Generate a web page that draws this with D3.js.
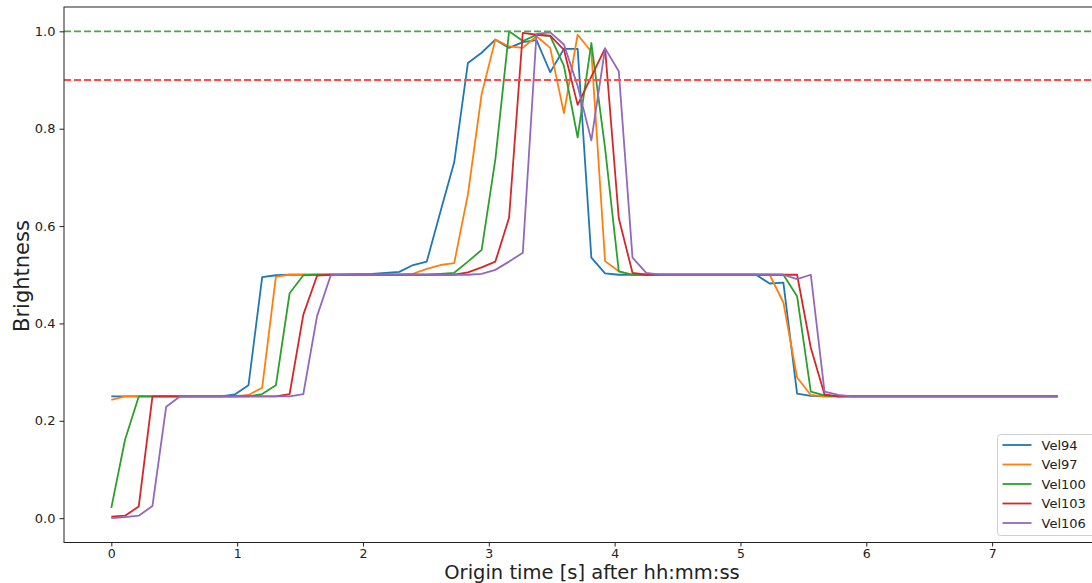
<!DOCTYPE html>
<html>
<head>
<meta charset="utf-8">
<script src="https://cdn.jsdelivr.net/npm/d3@7"></script>
<style>
  body { margin: 0; background: #fff; }
  svg { display: block; font-family: "DejaVu Sans", sans-serif; }
</style>
</head>
<body>
<div id="chart"></div>
<script>
// sample step in seconds (one frame)
var DT = 0.109;

var vel94 = [0.25, 0.25, 0.25, 0.25, 0.25, 0.25, 0.25, 0.25, 0.25, 0.254,
    0.273, 0.495, 0.499, 0.5, 0.5, 0.5, 0.5, 0.5, 0.501, 0.502,
    0.504, 0.506, 0.52, 0.527, 0.63, 0.731, 0.935, 0.956, 0.983, 0.966,
    0.978, 0.982, 0.916, 0.964, 0.964, 0.535, 0.503, 0.5, 0.5, 0.5,
    0.5, 0.5, 0.5, 0.5, 0.5, 0.5, 0.5, 0.5, 0.482, 0.484,
    0.256, 0.251, 0.25, 0.25, 0.25, 0.25, 0.25, 0.25, 0.25, 0.25,
    0.25, 0.25, 0.25, 0.25, 0.25, 0.25, 0.25, 0.25, 0.25, 0.25];

var vel97 = [0.243, 0.25, 0.25, 0.25, 0.25, 0.25, 0.25, 0.25, 0.25, 0.25,
    0.253, 0.268, 0.496, 0.5, 0.5, 0.5, 0.5, 0.5, 0.5, 0.5,
    0.5, 0.5, 0.502, 0.512, 0.52, 0.524, 0.665, 0.871, 0.983, 0.969,
    0.966, 0.99, 0.966, 0.832, 0.993, 0.958, 0.528, 0.507, 0.5, 0.5,
    0.5, 0.5, 0.5, 0.5, 0.5, 0.5, 0.5, 0.5, 0.5, 0.443,
    0.289, 0.253, 0.25, 0.25, 0.25, 0.25, 0.25, 0.25, 0.25, 0.25,
    0.25, 0.25, 0.25, 0.25, 0.25, 0.25, 0.25, 0.25, 0.25, 0.25];

var vel100 = [0.021, 0.161, 0.25, 0.25, 0.25, 0.25, 0.25, 0.25, 0.25, 0.25,
    0.25, 0.255, 0.273, 0.462, 0.499, 0.5, 0.5, 0.5, 0.5, 0.5,
    0.5, 0.5, 0.5, 0.5, 0.502, 0.504, 0.527, 0.551, 0.737, 1.0,
    0.98, 0.993, 0.99, 0.929, 0.782, 0.976, 0.76, 0.507, 0.5, 0.5,
    0.5, 0.5, 0.5, 0.5, 0.5, 0.5, 0.5, 0.5, 0.5, 0.5,
    0.456, 0.26, 0.252, 0.25, 0.25, 0.25, 0.25, 0.25, 0.25, 0.25,
    0.25, 0.25, 0.25, 0.25, 0.25, 0.25, 0.25, 0.25, 0.25, 0.25];

var vel103 = [0.003, 0.005, 0.024, 0.25, 0.25, 0.25, 0.25, 0.25, 0.25, 0.25,
    0.25, 0.25, 0.25, 0.255, 0.418, 0.498, 0.5, 0.5, 0.5, 0.5,
    0.5, 0.5, 0.5, 0.5, 0.5, 0.5, 0.505, 0.515, 0.527, 0.617,
    0.997, 0.993, 0.991, 0.962, 0.849, 0.907, 0.965, 0.616, 0.504, 0.5,
    0.5, 0.5, 0.5, 0.5, 0.5, 0.5, 0.5, 0.5, 0.5, 0.5,
    0.5, 0.35, 0.254, 0.25, 0.25, 0.25, 0.25, 0.25, 0.25, 0.25,
    0.25, 0.25, 0.25, 0.25, 0.25, 0.25, 0.25, 0.25, 0.25, 0.25];

var vel106 = [0.0, 0.002, 0.005, 0.025, 0.229, 0.25, 0.25, 0.25, 0.25, 0.25,
    0.25, 0.25, 0.25, 0.25, 0.255, 0.415, 0.499, 0.5, 0.5, 0.5,
    0.5, 0.5, 0.5, 0.5, 0.5, 0.5, 0.5, 0.502, 0.51, 0.527,
    0.545, 0.995, 0.998, 0.973, 0.888, 0.776, 0.965, 0.918, 0.535, 0.504,
    0.5, 0.5, 0.5, 0.5, 0.5, 0.5, 0.5, 0.5, 0.5, 0.5,
    0.491, 0.5, 0.26, 0.253, 0.25, 0.25, 0.25, 0.25, 0.25, 0.25,
    0.25, 0.25, 0.25, 0.25, 0.25, 0.25, 0.25, 0.25, 0.25, 0.25];

var seriesNames = ["Vel94", "Vel97", "Vel100", "Vel103", "Vel106"];
var seriesValues = [vel94, vel97, vel100, vel103, vel106];
var colors = ["#1f77b4", "#ff7f0e", "#2ca02c", "#d62728", "#9467bd"];

var xTicks = [0, 1, 2, 3, 4, 5, 6, 7];
var yTicks = [0.0, 0.2, 0.4, 0.6, 0.8, 1.0];

// reference lines: level and colour
var refLines = [{ y: 1.0, color: "#4da64d" }, { y: 0.9, color: "#ff4d4d" }];

var width = 1092,
    height = 583;

var plot = { left: 64, top: 7, right: 1105, bottom: 542.5 };

var svg = d3.select("#chart").append("svg")
    .attr("width", width)
    .attr("height", height);

var T = (vel94.length - 1) * DT;

var x = d3.scaleLinear()
    .domain([-0.05 * T, 1.05 * T])
    .range([plot.left, plot.right]);

var y = d3.scaleLinear()
    .domain([-0.05, 1.05])
    .range([plot.bottom, plot.top]);

var xAxis = d3.axisBottom(x)
    .tickValues(xTicks)
    .tickFormat(d3.format("d"))
    .tickSize(4)
    .tickPadding(2.5);

var yAxis = d3.axisLeft(y)
    .tickValues(yTicks)
    .tickFormat(d3.format(".1f"))
    .tickSize(4.5)
    .tickPadding(4);

var gx = svg.append("g")
    .attr("transform", "translate(0," + plot.bottom + ")")
    .call(xAxis);

var gy = svg.append("g")
    .attr("transform", "translate(" + plot.left + ",0)")
    .call(yAxis);

[gx, gy].forEach(function (g) {
    g.select(".domain").remove();
    g.selectAll("text")
        .style("font-size", "13px")
        .style("font-family", "DejaVu Sans")
        .attr("fill", "#222");
    g.selectAll("line").attr("stroke", "#222");
});
gx.selectAll("text").style("font-size", "12.5px");

var line = d3.line()
    .x(function (d, i) { return x(i * DT); })
    .y(function (d) { return y(d); });

svg.append("defs").append("clipPath")
    .attr("id", "clip")
    .append("rect")
    .attr("x", plot.left)
    .attr("y", plot.top)
    .attr("width", plot.right - plot.left)
    .attr("height", plot.bottom - plot.top);

var lines = svg.append("g").attr("clip-path", "url(#clip)");

seriesValues.forEach(function (vals, k) {
    lines.append("path")
        .datum(vals)
        .attr("d", line)
        .attr("fill", "none")
        .attr("stroke", colors[k])
        .attr("stroke-width", 1.8)
        .attr("stroke-linejoin", "round");
});

refLines.forEach(function (r) {
    lines.append("line")
        .attr("x1", plot.left)
        .attr("x2", plot.right)
        .attr("y1", y(r.y))
        .attr("y2", y(r.y))
        .attr("stroke", r.color)
        .attr("stroke-width", 1.8)
        .attr("stroke-dasharray", "7,3");
});

// spines
svg.append("rect")
    .attr("x", plot.left)
    .attr("y", plot.top)
    .attr("width", plot.right - plot.left)
    .attr("height", plot.bottom - plot.top)
    .attr("fill", "none")
    .attr("stroke", "#222")
    .attr("stroke-width", 1);

// legend
var legend = svg.append("g").attr("transform", "translate(997.5,434.5)");

legend.append("rect")
    .attr("width", 100)
    .attr("height", 101)
    .attr("rx", 3)
    .attr("fill", "white")
    .attr("fill-opacity", 0.8)
    .attr("stroke", "#d0d0d0");

seriesNames.forEach(function (name, k) {
    var ry = 10.5 + k * 19.5;
    legend.append("line")
        .attr("x1", 5)
        .attr("x2", 34)
        .attr("y1", ry)
        .attr("y2", ry)
        .attr("stroke", colors[k])
        .attr("stroke-width", 1.8);
    legend.append("text")
        .attr("x", 44)
        .attr("y", ry + 4.6)
        .style("font-size", "13px")
        .attr("fill", "#222")
        .text(name);
});

// axis labels
svg.append("text")
    .attr("x", 592)
    .attr("y", 579)
    .attr("text-anchor", "middle")
    .style("font-size", "19.5px")
    .attr("fill", "#222")
    .text("Origin time [s] after hh:mm:ss");

svg.append("text")
    .attr("transform", "translate(29,276) rotate(-90)")
    .attr("text-anchor", "middle")
    .style("font-size", "21px")
    .attr("fill", "#222")
    .text("Brightness");
</script>
</body>
</html>
